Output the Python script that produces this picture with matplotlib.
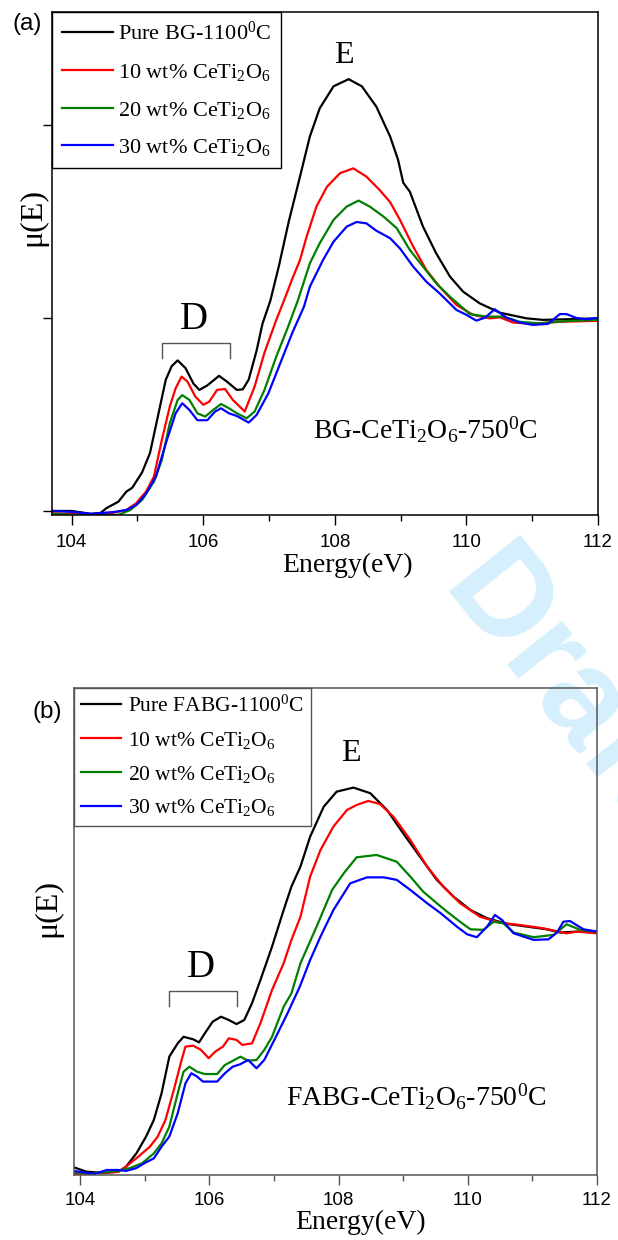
import matplotlib
matplotlib.use('Agg')
import matplotlib.pyplot as plt
from matplotlib.ticker import MultipleLocator, NullLocator

plt.rcParams['font.family'] = ['Liberation Serif', 'DejaVu Serif']
plt.rcParams['mathtext.fontset'] = 'custom'
plt.rcParams['mathtext.rm'] = 'Liberation Serif'
plt.rcParams['mathtext.it'] = 'Liberation Serif:italic'
plt.rcParams['mathtext.bf'] = 'Liberation Serif:bold'

# ---------------- data: panel (a) ----------------
a_pure_E = [103.71, 104.0, 104.29, 104.44, 104.53, 104.71, 104.83, 104.92, 105.07, 105.19, 105.31, 105.43,
            105.52, 105.61, 105.73, 105.85, 105.94, 106.06, 106.24, 106.36, 106.51, 106.60, 106.69, 106.81,
            106.90, 107.02, 107.15, 107.30, 107.47, 107.62, 107.77, 107.98, 108.21, 108.41, 108.63, 108.84,
            108.96, 109.04, 109.14, 109.34, 109.54, 109.75, 109.95, 110.20, 110.51, 110.91, 111.16, 111.52, 112.0]
a_pure_mu = [0.0, 0.0, -0.015, -0.01, 0.015, 0.048, 0.10, 0.12, 0.20, 0.30, 0.49, 0.68,
             0.75, 0.78, 0.74, 0.66, 0.627, 0.65, 0.70, 0.67, 0.627, 0.63, 0.68, 0.83,
             0.97, 1.09, 1.27, 1.50, 1.732, 1.94, 2.086, 2.20, 2.237, 2.20, 2.095, 1.94,
             1.82, 1.70, 1.654, 1.473, 1.335, 1.214, 1.136, 1.076, 1.027, 0.998, 0.99, 0.993, 0.998]

a_10_E = [103.71, 104.3, 104.6, 104.83, 104.98, 105.13, 105.25, 105.37, 105.49, 105.58, 105.67, 105.76,
          105.88, 106.0, 106.09, 106.21, 106.33, 106.45, 106.63, 106.78, 106.93, 107.11, 107.23, 107.35,
          107.47, 107.57, 107.72, 107.88, 108.08, 108.28, 108.48, 108.68, 108.84, 108.99, 109.19, 109.39,
          109.59, 109.85, 110.10, 110.35, 110.51, 110.71, 111.01, 111.42, 112.0]
a_10_mu = [-0.012, -0.02, -0.012, 0.005, 0.04, 0.10, 0.178, 0.368, 0.54, 0.636, 0.696, 0.67,
           0.592, 0.55, 0.566, 0.627, 0.632, 0.575, 0.515, 0.644, 0.82, 0.99, 1.093, 1.20,
           1.30, 1.42, 1.577, 1.68, 1.75, 1.775, 1.732, 1.663, 1.60, 1.508, 1.37, 1.249,
           1.162, 1.067, 1.016, 0.998, 1.003, 0.976, 0.97, 0.98, 0.985]

a_20_E = [103.71, 104.3, 104.71, 104.89, 105.07, 105.25, 105.37, 105.49, 105.61, 105.68, 105.79, 105.91,
          106.03, 106.15, 106.27, 106.39, 106.51, 106.66, 106.78, 106.93, 107.11, 107.29, 107.44, 107.62,
          107.77, 107.98, 108.18, 108.36, 108.53, 108.74, 108.94, 109.14, 109.34, 109.54, 109.75, 110.05,
          110.30, 110.56, 110.81, 111.11, 111.52, 112.0]
a_20_mu = [-0.015, -0.025, -0.02, 0.005, 0.057, 0.152, 0.264, 0.454, 0.575, 0.60, 0.575, 0.506,
           0.489, 0.523, 0.554, 0.532, 0.506, 0.48, 0.515, 0.627, 0.80, 0.955, 1.093, 1.283,
           1.387, 1.508, 1.577, 1.608, 1.577, 1.525, 1.465, 1.352, 1.266, 1.18, 1.11, 1.02,
           1.007, 1.007, 0.98, 0.972, 0.984, 0.99]

a_30_E = [103.71, 104.0, 104.3, 104.65, 104.83, 104.98, 105.13, 105.28, 105.43, 105.58, 105.68, 105.79,
          105.91, 106.06, 106.18, 106.27, 106.39, 106.51, 106.69, 106.81, 106.99, 107.17, 107.35, 107.53,
          107.62, 107.82, 107.98, 108.18, 108.33, 108.48, 108.63, 108.84, 108.99, 109.19, 109.39, 109.59,
          109.85, 110.0, 110.15, 110.28, 110.43, 110.61, 110.81, 111.01, 111.24, 111.42, 111.52, 111.67,
          111.82, 112.0]
a_30_mu = [0.0, -0.005, -0.015, -0.005, 0.005, 0.03, 0.09, 0.178, 0.35, 0.506, 0.558, 0.523,
           0.47, 0.47, 0.515, 0.532, 0.506, 0.492, 0.458, 0.497, 0.61, 0.765, 0.92, 1.058,
           1.162, 1.30, 1.395, 1.473, 1.497, 1.49, 1.452, 1.413, 1.36, 1.266, 1.188, 1.128,
           1.041, 1.016, 0.986, 1.001, 1.045, 1.001, 0.976, 0.964, 0.969, 1.02, 1.02, 1.0,
           0.993, 1.0]

# ---------------- data: panel (b) ----------------
b_pure_E = [103.9, 104.1, 104.35, 104.59, 104.71, 104.87, 105.02, 105.14, 105.26, 105.38, 105.51, 105.60,
            105.75, 105.84, 105.93, 106.05, 106.18, 106.30, 106.42, 106.54, 106.66, 106.79, 106.97, 107.15,
            107.27, 107.41, 107.56, 107.77, 107.97, 108.23, 108.49, 108.75, 109.0, 109.26, 109.52, 109.78,
            110.04, 110.30, 110.61, 110.91, 111.22, 111.43, 111.69, 112.0]
b_pure_mu = [0.014, -0.009, -0.015, -0.009, 0.017, 0.086, 0.173, 0.259, 0.397, 0.587, 0.656, 0.69,
             0.677, 0.661, 0.708, 0.768, 0.794, 0.777, 0.756, 0.777, 0.864, 0.984, 1.157, 1.347,
             1.468, 1.572, 1.727, 1.882, 1.96, 1.981, 1.952, 1.865, 1.744, 1.623, 1.503, 1.416,
             1.347, 1.304, 1.275, 1.261, 1.247, 1.23, 1.235, 1.235]

b_10_E = [103.9, 104.1, 104.59, 104.71, 104.9, 105.08, 105.2, 105.32, 105.45, 105.57, 105.63, 105.75,
          105.87, 105.99, 106.09, 106.21, 106.3, 106.42, 106.51, 106.66, 106.79, 106.97, 107.15, 107.27,
          107.41, 107.56, 107.72, 107.92, 108.13, 108.28, 108.46, 108.64, 108.85, 109.11, 109.37, 109.62,
          109.88, 110.19, 110.50, 110.81, 111.17, 111.53, 111.69, 112.0]
b_10_mu = [-0.02, -0.02, -0.01, 0.017, 0.069, 0.121, 0.173, 0.259, 0.415, 0.57, 0.639, 0.644,
           0.622, 0.579, 0.613, 0.639, 0.682, 0.674, 0.648, 0.656, 0.76, 0.933, 1.071, 1.192,
           1.312, 1.52, 1.658, 1.779, 1.865, 1.891, 1.912, 1.896, 1.83, 1.71, 1.572, 1.468,
           1.382, 1.312, 1.281, 1.269, 1.252, 1.226, 1.235, 1.226]

b_20_E = [103.9, 104.16, 104.41, 104.59, 104.77, 104.96, 105.14, 105.26, 105.38, 105.51, 105.6, 105.69,
          105.81, 105.93, 106.12, 106.24, 106.36, 106.48, 106.6, 106.73, 106.85, 106.97, 107.15, 107.27,
          107.41, 107.66, 107.90, 108.08, 108.28, 108.59, 108.90, 109.11, 109.31, 109.52, 109.68, 109.88,
          110.04, 110.24, 110.40, 110.55, 110.71, 111.02, 111.33, 111.53, 111.74, 112.0]
b_20_mu = [-0.01, -0.02, -0.01, -0.005, 0.01, 0.035, 0.086, 0.138, 0.224, 0.397, 0.509, 0.535,
           0.509, 0.497, 0.497, 0.544, 0.565, 0.587, 0.566, 0.57, 0.622, 0.69, 0.846, 0.915,
           1.071, 1.261, 1.451, 1.537, 1.62, 1.632, 1.597, 1.52, 1.442, 1.382, 1.338, 1.286,
           1.247, 1.244, 1.286, 1.278, 1.23, 1.206, 1.218, 1.273, 1.244, 1.235]

b_30_E = [103.9, 104.23, 104.41, 104.59, 104.71, 104.87, 105.02, 105.14, 105.26, 105.38, 105.51, 105.63,
          105.72, 105.81, 105.9, 106.12, 106.24, 106.36, 106.48, 106.6, 106.73, 106.85, 107.03, 107.21,
          107.4, 107.56, 107.72, 107.92, 108.18, 108.44, 108.70, 108.90, 109.11, 109.37, 109.57, 109.83,
          109.99, 110.14, 110.30, 110.42, 110.53, 110.71, 111.02, 111.25, 111.38, 111.48, 111.58, 111.79,
          112.0]
b_30_mu = [-0.005, -0.02, 0.0, 0.0, -0.005, 0.01, 0.04, 0.06, 0.121, 0.173, 0.294, 0.449,
           0.501, 0.484, 0.458, 0.458, 0.501, 0.535, 0.548, 0.57, 0.527, 0.57, 0.69, 0.812,
           0.95, 1.088, 1.209, 1.347, 1.485, 1.516, 1.516, 1.503, 1.451, 1.382, 1.333, 1.261,
           1.221, 1.206, 1.261, 1.321, 1.295, 1.226, 1.192, 1.195, 1.23, 1.286, 1.29, 1.247,
           1.235]

labels_a = ['Pure BG-1100$^0$C', '10 wt% CeTi$_2$O$_6$', '20 wt% CeTi$_2$O$_6$', '30 wt% CeTi$_2$O$_6$']
labels_b = ['Pure FABG-1100$^0$C', '10 wt% CeTi$_2$O$_6$', '20 wt% CeTi$_2$O$_6$', '30 wt% CeTi$_2$O$_6$']
colors = ['#000000', '#ff0000', '#008000', '#0000ff']
x_ticks = [104, 106, 108, 110, 112]

W, H = 618, 1240
fig = plt.figure(figsize=(W / 100, H / 100), dpi=100)
fig.patch.set_facecolor('white')


def fx(px):
    return px / W


def fy(py):
    return 1 - py / H


axA = fig.add_axes([fx(52.3), fy(515), fx(598) - fx(52.3), fy(12) - fy(515)])
axB = fig.add_axes([fx(73.7), fy(1175), fx(597) - fx(73.7), fy(688) - fy(1175)])

tickfont = ['Liberation Sans', 'DejaVu Sans']

series_a = [(a_pure_E, a_pure_mu), (a_10_E, a_10_mu), (a_20_E, a_20_mu), (a_30_E, a_30_mu)]
series_b = [(b_pure_E, b_pure_mu), (b_10_E, b_10_mu), (b_20_E, b_20_mu), (b_30_E, b_30_mu)]

panel_cfg = [
    (axA, series_a, labels_a, (103.705, 112.0), (-0.021, 2.585), '#000000',
     dict(fontsize=16, handlelength=2.27, handletextpad=0.25, borderpad=0.45, labelspacing=0.75), 7),
    (axB, series_b, labels_b, (103.90, 112.0), (-0.026, 2.497), '#555555',
     dict(fontsize=15.5, handlelength=1.85, handletextpad=0.3, borderpad=0.35, labelspacing=0.6), 5),
]

for ax, series, labels, xlim, ylim, spine_col, legkw, pad in panel_cfg:
    ax.patch.set_visible(False)
    handles = []
    for (e, m), c, lab in zip(series, colors, labels):
        h, = ax.plot(e, m, color=c, lw=1.6, label=lab)
        handles.append(h)
    ax.set_xlim(*xlim)
    ax.set_ylim(*ylim)
    ax.set_xticks(x_ticks)
    ax.xaxis.set_minor_locator(MultipleLocator(1))
    for s in ax.spines.values():
        s.set_color(spine_col)
        s.set_linewidth(1.1)
    ax.tick_params(axis='x', which='major', direction='out', length=7, width=1.0, color=spine_col,
                   labelsize=13.5, pad=pad, labelfontfamily=tickfont)
    ax.tick_params(axis='x', which='minor', direction='out', length=4, width=1.0, color=spine_col)
    leg = ax.legend(handles=handles, loc='upper left', bbox_to_anchor=(0, 1), borderaxespad=0,
                    frameon=True, fancybox=False, edgecolor=spine_col, framealpha=1, **legkw)
    leg.get_frame().set_linewidth(1.0)

axA.set_yticks([0, 1, 2])
axA.tick_params(axis='y', which='major', direction='out', length=6.5, width=1.0, labelleft=False)
axB.yaxis.set_major_locator(NullLocator())

# annotations panel (a)
axA.text(108.13, 2.36, 'E', fontsize=23, ha='center', va='center')
axA.text(105.86, 0.99, 'D', fontsize=28, ha='center', va='center')
bracket_a_x = [105.38, 105.38, 106.41, 106.41]
bracket_a_y = [0.791, 0.869, 0.869, 0.791]
axA.plot(bracket_a_x, bracket_a_y, color='#555555', lw=1.0)
axA.text(107.67, 0.42, 'BG-CeTi$_2$O$_6$-750$^0$C', fontsize=20, ha='left', va='center')

# annotations panel (b)
axB.text(108.19, 2.158, 'E', fontsize=23, ha='center', va='center')
axB.text(105.87, 1.047, 'D', fontsize=28, ha='center', va='center')
bracket_b_x = [105.37, 105.37, 106.43, 106.43]
bracket_b_y = [0.85, 0.927, 0.927, 0.85]
axB.plot(bracket_b_x, bracket_b_y, color='#555555', lw=1.0)
axB.text(107.18, 0.38, 'FABG-CeTi$_2$O$_6$-750$^0$C', fontsize=20, ha='left', va='center')

# axis labels & panel labels
fig.text(fx(347.5), fy(565), 'Energy(eV)', fontsize=20, ha='center', va='center')
fig.text(fx(361), fy(1222), 'Energy(eV)', fontsize=20, ha='center', va='center')
fig.text(fx(33), fy(217), 'μ(E)', fontsize=23, rotation=90, ha='center', va='center')
fig.text(fx(48), fy(908), 'μ(E)', fontsize=23, rotation=90, ha='center', va='center')
fig.text(fx(27), fy(24), '(a)', fontsize=17.5, ha='center', va='center', family=['Liberation Sans', 'DejaVu Sans'])
fig.text(fx(47), fy(712), '(b)', fontsize=17.5, ha='center', va='center', family=['Liberation Sans', 'DejaVu Sans'])

# watermark
fig.text(fx(439.4), fy(590), 'Draft', fontsize=94, fontweight='bold', color='#d5effc',
         rotation=-51.5, rotation_mode='anchor', ha='left', va='baseline',
         family=['Liberation Sans', 'DejaVu Sans'], zorder=-1)

fig.savefig('out.png', dpi=100, facecolor='white')
